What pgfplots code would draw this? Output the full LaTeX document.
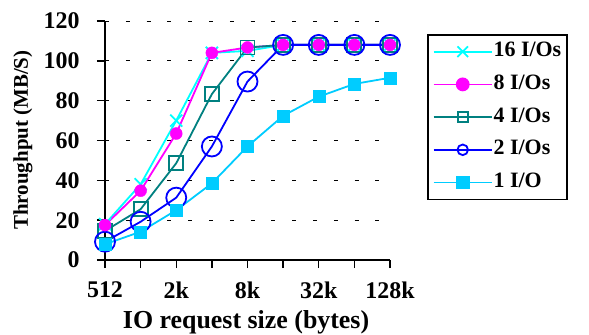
\documentclass[border=0pt]{standalone}
\usepackage{fontspec}
\setmainfont{Liberation Serif}
\usepackage{pgfplots}
\pgfplotsset{compat=1.18}
\definecolor{c16}{HTML}{00FFFF}
\definecolor{c8}{HTML}{FF00FF}
\definecolor{c4}{HTML}{008080}
\definecolor{c2}{HTML}{0000FF}
\definecolor{c1}{HTML}{00CCFF}
\begin{document}
\begin{tikzpicture}
\useasboundingbox (-105bp,-75bp) rectangle (484bp,260bp);
\begin{axis}[
 scale only axis, width=285bp, height=239bp,
 xmin=0, xmax=8, ymin=0, ymax=120,
 axis x line=bottom, axis y line=left,
 axis line style={-, line width=1.8bp},
 xtick={0,...,8}, xticklabels={512,,2k,,8k,,32k,,128k},
 ytick={0,20,...,120},
 yticklabel={\pgfmathprintnumber{\tick}\hspace*{14bp}},
 tick align=outside, major tick length=8bp,
 tick style={black, line width=1.4bp},
 ymajorgrids, grid style={black, line width=0.8bp, dash pattern=on 4bp off 16.8bp},
 /pgf/number format/assume math mode=true,
 xticklabel style={font=\fontsize{24}{24}\selectfont\bfseries, yshift=-10bp},
 yticklabel style={font=\fontsize{24}{24}\selectfont\bfseries},
 xlabel={IO request size (bytes)},
 xlabel style={at={(axis description cs:0.495,-0.262)}, anchor=center, font=\fontsize{26}{28}\selectfont\bfseries},
 ylabel={Throughput (MB/S)},
 ylabel style={at={(axis description cs:-0.288,0.502)}, anchor=center, rotate=0, font=\fontsize{21}{24}\selectfont\bfseries},
 legend style={at={(1.13,0.946)}, anchor=north west, draw=black, line width=1.6bp,
   font=\fontsize{22}{24}\selectfont\bfseries, inner xsep=5bp, inner ysep=6bp,
   row sep=10.7bp, nodes={inner sep=1bp, text height=15bp, text depth=5bp}},
 legend cell align=left,
 legend image code/.code={\draw[mark repeat=2,mark phase=2,line width=1.8bp] plot coordinates {(0bp,0bp) (29bp,0bp) (58bp,0bp)};},
]
\addlegendimage{c16, line width=1.8bp, mark=x, mark size=7.5bp, mark options={solid}}
\addlegendentry{16 I/Os}
\addlegendimage{c8, line width=1.8bp, mark=*, mark size=6bp, mark options={fill=c8}}
\addlegendentry{8 I/Os}
\addlegendimage{c4, line width=1.8bp, mark=square, mark size=5bp}
\addlegendentry{4 I/Os}
\addlegendimage{c2, line width=1.8bp, mark=o, mark size=5.3bp}
\addlegendentry{2 I/Os}
\addlegendimage{c1, line width=1.8bp, mark=square*, mark size=6bp, mark options={fill=c1}}
\addlegendentry{1 I/O}
% lines
\addplot[forget plot, c16, line width=1.8bp, no markers] coordinates {(0,18) (1,38) (2,70) (3,104) (4,105) (5,108) (6,108) (7,108) (8,108)};
\addplot[forget plot, c8, line width=1.8bp, no markers] coordinates {(0,17.5) (1,34.8) (2,63.5) (3,104) (4,106.7) (5,108) (6,108) (7,108) (8,108)};
\addplot[forget plot, c4, line width=1.8bp, no markers] coordinates {(0,14.6) (1,25.5) (2,48.6) (3,83.3) (4,106.7) (5,108) (6,108) (7,108) (8,108)};
\addplot[forget plot, c1, line width=1.8bp, no markers] coordinates {(0,7.9) (1,14.2) (2,25) (3,38.5) (4,57) (5,72.4) (6,82) (7,88.4) (8,91.5)};
\addplot[forget plot, c2, line width=1.8bp, no markers] coordinates {(0,9.2) (1,19.2) (2,31.3) (3,57) (4,89.6) (5,108) (6,108) (7,108) (8,108)};
% marks
\addplot[forget plot, only marks, c16, mark=x, mark size=8.5bp, mark options={line width=1.8bp}] coordinates {(0,18) (1,38) (2,70) (3,104) (4,105) (5,108) (6,108) (7,108) (8,108)};
\addplot[forget plot, only marks, c4, mark=square, mark size=7bp, mark options={line width=1.8bp}] coordinates {(0,14.6) (1,25.5) (2,48.6) (3,83.3) (4,106.7) (5,108) (6,108) (7,108) (8,108)};
\addplot[forget plot, only marks, c2, mark=o, mark size=10bp, mark options={line width=1.8bp}] coordinates {(0,9.2) (1,19.2) (2,31.3) (3,57) (4,89.6) (5,108) (6,108) (7,108) (8,108)};
\addplot[forget plot, only marks, c1, mark=square*, mark size=6bp, mark options={fill=c1, draw=c1}] coordinates {(0,7.9) (1,14.2) (2,25) (3,38.5) (4,57) (5,72.4) (6,82) (7,88.4) (8,91.5)};
\addplot[forget plot, only marks, c8, mark=*, mark size=6bp, mark options={fill=c8, draw=c8}] coordinates {(0,17.5) (1,34.8) (2,63.5) (3,104) (4,106.7) (5,108) (6,108) (7,108) (8,108)};
\end{axis}
\end{tikzpicture}
\end{document}
